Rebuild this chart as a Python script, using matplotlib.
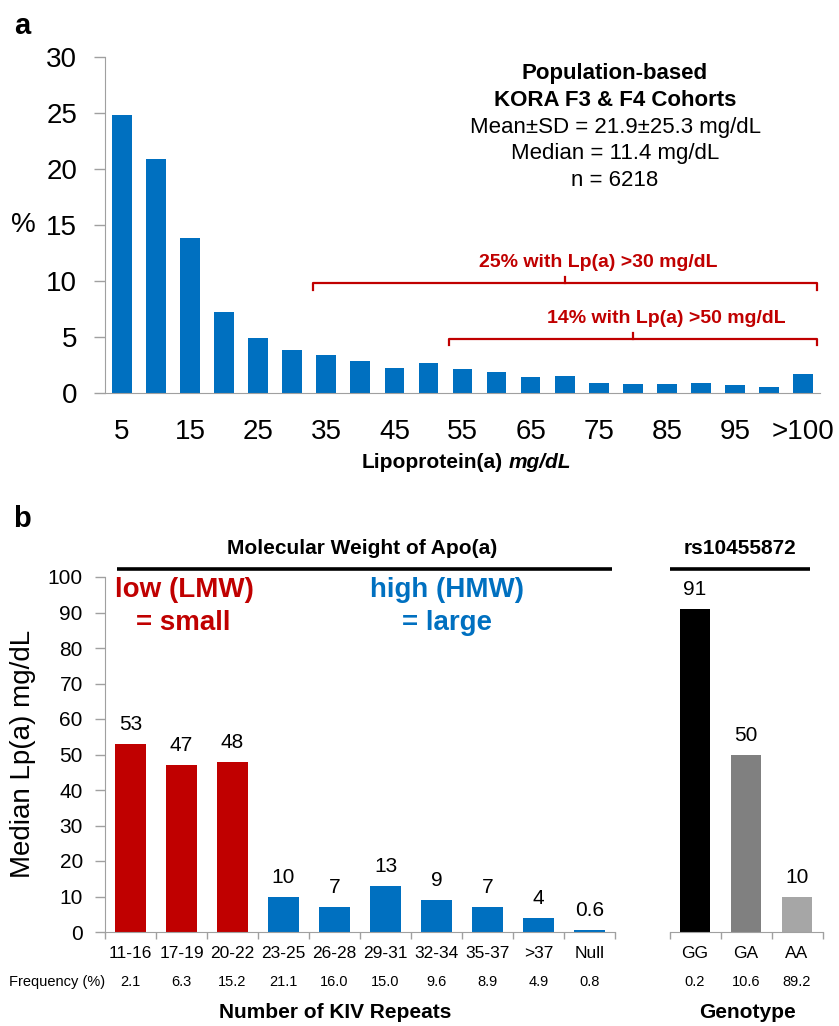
import numpy as np
import matplotlib.pyplot as plt
from matplotlib.transforms import blended_transform_factory

plt.rcParams['font.family'] = ['Liberation Sans', 'DejaVu Sans']

# panel a: distribution of Lp(a)
lpa_bins = ['5', '10', '15', '20', '25', '30', '35', '40', '45', '50',
            '55', '60', '65', '70', '75', '80', '85', '90', '95', '100', '>100']
lpa_pct = [24.8, 20.9, 13.8, 7.2, 4.9, 3.8, 3.4, 2.9, 2.2, 2.7,
           2.1, 1.9, 1.4, 1.5, 0.9, 0.8, 0.8, 0.9, 0.7, 0.5, 1.7]

# panel b: median Lp(a) by KIV repeats
kiv_groups = ['11-16', '17-19', '20-22', '23-25', '26-28', '29-31',
              '32-34', '35-37', '>37', 'Null']
kiv_median = [53, 47, 48, 10, 7, 13, 9, 7, 4, 0.6]
kiv_freq = ['2.1', '6.3', '15.2', '21.1', '16.0', '15.0', '9.6', '8.9', '4.9', '0.8']
kiv_size = ['LMW'] * 3 + ['HMW'] * 7

# panel b: rs10455872 genotype
geno = ['GG', 'GA', 'AA']
geno_median = [91, 50, 10]
geno_freq = ['0.2', '10.6', '89.2']

BLUE = '#0070C0'
RED = '#C00000'
GRAY = '#A0A0A0'
size_col = {'LMW': RED, 'HMW': BLUE}
geno_col = ['#000000', '#808080', '#A6A6A6']

W, H = 839, 1026
fig = plt.figure(figsize=(W / 100, H / 100), dpi=100)


def frame(x0, y0, x1, y1):
    return [x0 / W, 1 - y1 / H, (x1 - x0) / W, (y1 - y0) / H]


def style(ax, left=True):
    for s in ['top', 'right']:
        ax.spines[s].set_visible(False)
    ax.spines['bottom'].set_color(GRAY)
    ax.spines['left'].set_color(GRAY)
    ax.spines['left'].set_visible(left)


def ftext(x, y, s, **kw):
    fig.text(x / W, 1 - y / H, s, ha='center', va='center', **kw)


# ---------------- panel a ----------------
axa = fig.add_axes(frame(105, 57, 820, 393))
xa = np.arange(len(lpa_bins))
axa.bar(xa, lpa_pct, width=0.58, color=BLUE)
axa.set_xlim(-0.5, len(lpa_bins) - 0.5)
axa.set_ylim(0, 30)
axa.set_yticks(range(0, 31, 5))
axa.set_xticks(xa)
axa.set_xticklabels([b if i % 2 == 0 else '' for i, b in enumerate(lpa_bins)])
style(axa)
axa.tick_params(axis='y', length=8, width=1, color=GRAY, labelsize=20, pad=12)
axa.tick_params(axis='x', length=0, labelsize=20, pad=19)


def bracket(ax, x0, x1, y, drop, rise, label):
    xm = (x0 + x1) / 2
    ax.plot([x0, x0, x1, x1], [y - drop, y, y, y - drop], color=RED, lw=1.6,
            clip_on=False, solid_joinstyle='round')
    ax.plot([xm, xm], [y, y + rise], color=RED, lw=1.6)
    ax.text(xm + 1, y + 1.85, label, color=RED, fontsize=14, fontweight='bold',
            ha='center', va='center')


bracket(axa, lpa_bins.index('35') - 0.4, len(lpa_bins) - 0.6, 9.8, 0.6, 0.6,
        '25% with Lp(a) >30 mg/dL')
bracket(axa, lpa_bins.index('55') - 0.4, len(lpa_bins) - 0.6, 4.8, 0.5, 0.6,
        '14% with Lp(a) >50 mg/dL')

ftext(615, 73, 'Population-based', fontsize=16, fontweight='bold')
ftext(615, 100, 'KORA F3 & F4 Cohorts', fontsize=16, fontweight='bold')
ftext(615, 127, 'Mean±SD = 21.9±25.3 mg/dL', fontsize=16)
ftext(615, 153, 'Median = 11.4 mg/dL', fontsize=16)
ftext(615, 180, 'n = 6218', fontsize=16)

ftext(23, 225, '%', fontsize=20)
ftext(22, 26, 'a', fontsize=21, fontweight='bold')
fig.text(503 / W, 1 - 463 / H, 'Lipoprotein(a)', fontsize=15, fontweight='bold',
         ha='right', va='center')
fig.text(509 / W, 1 - 463 / H, 'mg/dL', fontsize=15, fontweight='bold',
         style='italic', ha='left', va='center')

# ---------------- panel b (KIV) ----------------
axb = fig.add_axes(frame(105, 577, 615, 932))
xb = np.arange(len(kiv_groups))
axb.bar(xb, kiv_median, width=0.59, color=[size_col[s] for s in kiv_size])
for i, v in enumerate(kiv_median):
    axb.annotate(f'{v:g}', (i, v), xytext=(0, 7), textcoords='offset points',
                 ha='center', va='bottom', fontsize=15)
axb.set_xlim(-0.5, len(kiv_groups) - 0.5)
axb.set_ylim(0, 100)
axb.set_yticks(range(0, 101, 10))
axb.set_xticks(xb)
axb.set_xticklabels(kiv_groups)
axb.set_xticks(np.arange(-0.5, len(kiv_groups), 1), minor=True)
style(axb)
axb.tick_params(axis='y', length=7, width=1, color=GRAY, labelsize=15, pad=9)
axb.tick_params(axis='x', which='major', length=0, labelsize=12.5, pad=10)
axb.tick_params(axis='x', which='minor', length=5, width=1, color=GRAY)

tb = blended_transform_factory(axb.transData, fig.transFigure)
for i, f in enumerate(kiv_freq):
    axb.text(i, 1 - 982 / H, f, transform=tb, ha='center', va='center', fontsize=10.5)
fig.text(9 / W, 1 - 982 / H, 'Frequency (%)', ha='left', va='center', fontsize=10.5)

axb.plot([0.024, 0.994], [1.0225, 1.0225], transform=axb.transAxes, color='black',
         lw=2.6, clip_on=False, solid_capstyle='butt')
axb.text(0.504, 1.079, 'Molecular Weight of Apo(a)', transform=axb.transAxes,
         ha='center', va='center', fontsize=15, fontweight='bold')
axb.text(0.155, 0.963, 'low (LMW)', transform=axb.transAxes, ha='center', va='center',
         fontsize=20, fontweight='bold', color=RED)
axb.text(0.153, 0.870, '= small', transform=axb.transAxes, ha='center', va='center',
         fontsize=20, fontweight='bold', color=RED)
axb.text(0.671, 0.963, 'high (HMW)', transform=axb.transAxes, ha='center', va='center',
         fontsize=20, fontweight='bold', color=BLUE)
axb.text(0.671, 0.870, '= large', transform=axb.transAxes, ha='center', va='center',
         fontsize=20, fontweight='bold', color=BLUE)

ftext(23, 754, 'Median Lp(a) mg/dL', fontsize=20, rotation=90)
ftext(22, 519, 'b', fontsize=21, fontweight='bold')
ftext(335, 1012, 'Number of KIV Repeats', fontsize=15, fontweight='bold')

# ---------------- panel b (genotype) ----------------
axg = fig.add_axes(frame(669.5, 577, 822.5, 932))
xg = np.arange(len(geno))
axg.bar(xg, geno_median, width=0.59, color=geno_col)
for i, v in enumerate(geno_median):
    axg.annotate(f'{v:g}', (i, v), xytext=(0, 7), textcoords='offset points',
                 ha='center', va='bottom', fontsize=15)
axg.set_xlim(-0.5, len(geno) - 0.5)
axg.set_ylim(0, 100)
axg.set_yticks([])
axg.set_xticks(xg)
axg.set_xticklabels(geno)
axg.set_xticks(np.arange(-0.5, len(geno), 1), minor=True)
style(axg, left=False)
axg.tick_params(axis='x', which='major', length=0, labelsize=12.5, pad=10)
axg.tick_params(axis='x', which='minor', length=5, width=1, color=GRAY)

tg = blended_transform_factory(axg.transData, fig.transFigure)
for i, f in enumerate(geno_freq):
    axg.text(i, 1 - 982 / H, f, transform=tg, ha='center', va='center', fontsize=10.5)

axg.plot([0.0, 0.918], [1.0225, 1.0225], transform=axg.transAxes, color='black',
         lw=2.6, clip_on=False, solid_capstyle='butt')
axg.text(0.46, 1.079, 'rs10455872', transform=axg.transAxes,
         ha='center', va='center', fontsize=15, fontweight='bold')
ftext(748, 1012, 'Genotype', fontsize=15, fontweight='bold')

fig.savefig('out.png', dpi=100)
